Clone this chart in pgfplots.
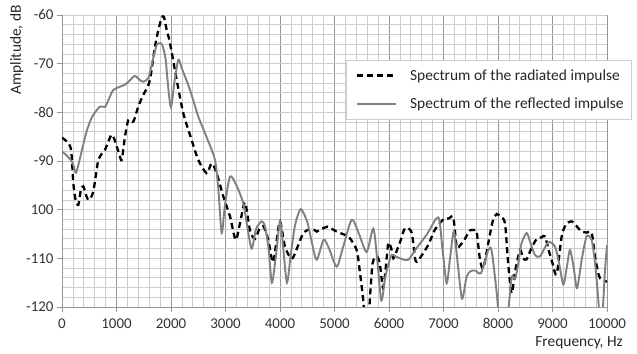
\documentclass[border=0pt]{standalone}
\usepackage{fontspec}
\setmainfont{Carlito}
\usepackage{pgfplots}
\pgfplotsset{compat=1.18}
\definecolor{solidgray}{RGB}{128,128,128}
\definecolor{majgrid}{RGB}{150,150,150}
\definecolor{mingrid}{RGB}{205,205,205}
\begin{document}
\begin{tikzpicture}[font=\fontsize{15.5}{18}\selectfont]
\begin{axis}[
  scale only axis, width=545bp, height=292bp,
  xmin=0, xmax=10000, ymin=-120, ymax=-60,
  xtick={0,1000,...,10000}, minor x tick num=4,
  ytick={-120,-110,...,-60}, minor y tick num=4,
  yticklabels={-120,-110,100,-90,-80,-70,-60},
  scaled x ticks=false,
  grid=both,
  major x grid style={majgrid, line width=0.8bp},
  major y grid style={mingrid, line width=0.8bp},
  minor grid style={mingrid, line width=0.8bp},
  axis x line*=bottom, axis y line*=left,
  axis line style={majgrid, line width=0.8bp, -},
  tick style={majgrid, line width=0.8bp},
  tick align=outside, major tick length=5bp, minor tick length=0bp,
  /pgf/number format/1000 sep={}, /pgf/number format/assume math mode=true,
  tick label style={font=\fontsize{15}{17}\selectfont, text=black!80},
  xticklabel style={yshift=-3bp},
  legend style={at={(rel axis cs:0.521,0.845)}, anchor=north west,
    draw=mingrid, fill=white, inner xsep=6bp, inner ysep=7bp,
    row sep=12bp, font=\fontsize{15.5}{18}\selectfont, text=black!85},
  legend cell align=left,
  legend image code/.code={\draw[#1] (5bp,0bp) -- (44bp,0bp); \path[draw=none] (0bp,0bp) -- (56bp,0bp);},
]
\addplot[black, line width=2.3bp, dash pattern=on 6bp off 4bp, smooth, tension=0.45] coordinates {
(0,-85.2) (116,-86.3) (170,-88) (208,-94.6) (250,-98) (300,-99) (345,-96)
(391,-95.2) (440,-97) (483,-98) (530,-97.5) (575,-96.3) (620,-93) (667,-89.8)
(730,-88.5) (789,-87.7) (850,-86) (911,-84.6) (960,-85.5) (1003,-87) (1050,-88.5)
(1095,-89.8) (1156,-85) (1217,-81.6) (1309,-81.9) (1400,-78.8) (1492,-76.4)
(1560,-75) (1615,-73.3) (1660,-70) (1706,-66.5) (1770,-63) (1829,-60.6) (1870,-60.4)
(1920,-63) (1982,-65.8) (2104,-73.3) (2226,-80.2) (2379,-85.7) (2502,-89.8)
(2654,-92.5) (2746,-90.5) (2838,-92.5) (2960,-97.3) (3083,-101.4) (3186,-106.2)
(3266,-102.8) (3358,-98.5) (3450,-104.3) (3541,-106) (3620,-104) (3694,-103.4)
(3780,-106) (3868,-110.8) (3930,-107) (4000,-102.4) (4092,-107.6) (4214,-110.1)
(4310,-108) (4420,-105) (4520,-104.1) (4612,-104) (4673,-104.5) (4760,-104)
(4870,-103.5) (4960,-104) (5040,-104.5) (5150,-105) (5270,-105.7) (5407,-108.3)
(5468,-113) (5529,-118.8) (5560,-124) (5620,-124) (5651,-118) (5700,-111)
(5774,-109.6) (5830,-111) (5890,-116) (5940,-112) (5988,-106.8) (6049,-108.3)
(6080,-110) (6140,-108.5) (6202,-106.7) (6294,-103.8) (6416,-104.7) (6490,-110.6)
(6600,-109.4) (6722,-107.2) (6844,-104.1) (6997,-102) (7100,-101.8) (7180,-101.6)
(7242,-107.6) (7300,-107.4) (7394,-106) (7480,-104.3) (7560,-104.2) (7609,-104.6)
(7670,-110.3) (7731,-112) (7823,-106.8) (7900,-102.5) (7976,-100.9) (8050,-101.5)
(8128,-102.8) (8190,-111.5) (8251,-117.2) (8312,-112.8) (8404,-108.3) (8460,-110)
(8526,-110.2) (8610,-108) (8710,-106) (8800,-105.7) (8862,-105.5) (8954,-109.3)
(9000,-111) (9076,-113.3) (9168,-105.5) (9250,-103) (9352,-102.4) (9450,-103.5)
(9535,-104.5) (9630,-104.7) (9719,-104.8) (9780,-109.6) (9850,-113.5) (9902,-114.4)
(10000,-114.8)
};
\addlegendentry{Spectrum of the radiated impulse}
\addplot[solidgray, line width=1.9bp, smooth, tension=0.45] coordinates {
(0,-88.1) (100,-89) (200,-90.5) (257,-92.4) (350,-88.5) (450,-84) (550,-81)
(697,-78.8) (789,-78.9) (870,-77) (941,-75.4) (1050,-74.8) (1156,-74.3) (1250,-73.4)
(1339,-72.5) (1420,-73.3) (1492,-73.7) (1584,-73) (1650,-70) (1737,-66.2) (1800,-65.8)
(1841,-66.2) (1900,-69) (1950,-75) (2000,-79) (2060,-74) (2135,-69.2) (2200,-71)
(2349,-75.4) (2502,-80.9) (2650,-85) (2807,-89.8) (2870,-96) (2930,-104.8) (2990,-99)
(3083,-93.2) (3200,-95) (3327,-98.7) (3400,-103.5) (3480,-108) (3560,-104) (3664,-102.4)
(3725,-103.5) (3790,-108) (3850,-115) (3920,-110) (4000,-102.4) (4060,-108) (4128,-115)
(4200,-109) (4280,-103) (4380,-99.9) (4500,-102.5) (4580,-106.5) (4673,-110.3)
(4800,-106.2) (4900,-108) (5040,-111.7) (5150,-108) (5315,-102.1) (5450,-105)
(5590,-108.7) (5713,-103.9) (5790,-111) (5860,-118.7) (5930,-114) (5988,-111.3)
(6049,-109.3) (6141,-109.7) (6250,-110.2) (6355,-110.3) (6500,-108) (6700,-105)
(6905,-101.6) (6980,-108) (7058,-115.1) (7120,-110) (7190,-104.5) (7260,-111)
(7340,-118.3) (7420,-114) (7486,-112.7) (7580,-112.5) (7690,-113) (7823,-108.3)
(7884,-108.5) (7976,-117.1) (8030,-124) (8100,-126) (8190,-120.5) (8251,-113.8)
(8312,-114.3) (8373,-111) (8430,-107) (8526,-104.8) (8600,-107) (8679,-109.3)
(8771,-109.6) (8923,-106.7) (9046,-107.6) (9120,-111) (9199,-115.4) (9260,-112)
(9321,-108.3) (9390,-112) (9450,-116.1) (9540,-110) (9627,-105.5) (9719,-106.3)
(9790,-112) (9850,-120) (9880,-124) (9920,-121) (9960,-113) (10000,-107.3)
};
\addlegendentry{Spectrum of the reflected impulse}
\end{axis}
\node[rotate=90, anchor=north east, inner sep=0pt, text=black!85]
  at ([xshift=-52bp, yshift=10bp]current axis.north west) {Amplitude, dB};
\node[anchor=east, inner sep=0pt, text=black!85]
  at ([xshift=16bp, yshift=-36bp]current axis.south east) {Frequency, Hz};
\path ([xshift=-62bp, yshift=-47bp]current axis.south west)
  rectangle ([xshift=30bp, yshift=15bp]current axis.north east);
\end{tikzpicture}
\end{document}
